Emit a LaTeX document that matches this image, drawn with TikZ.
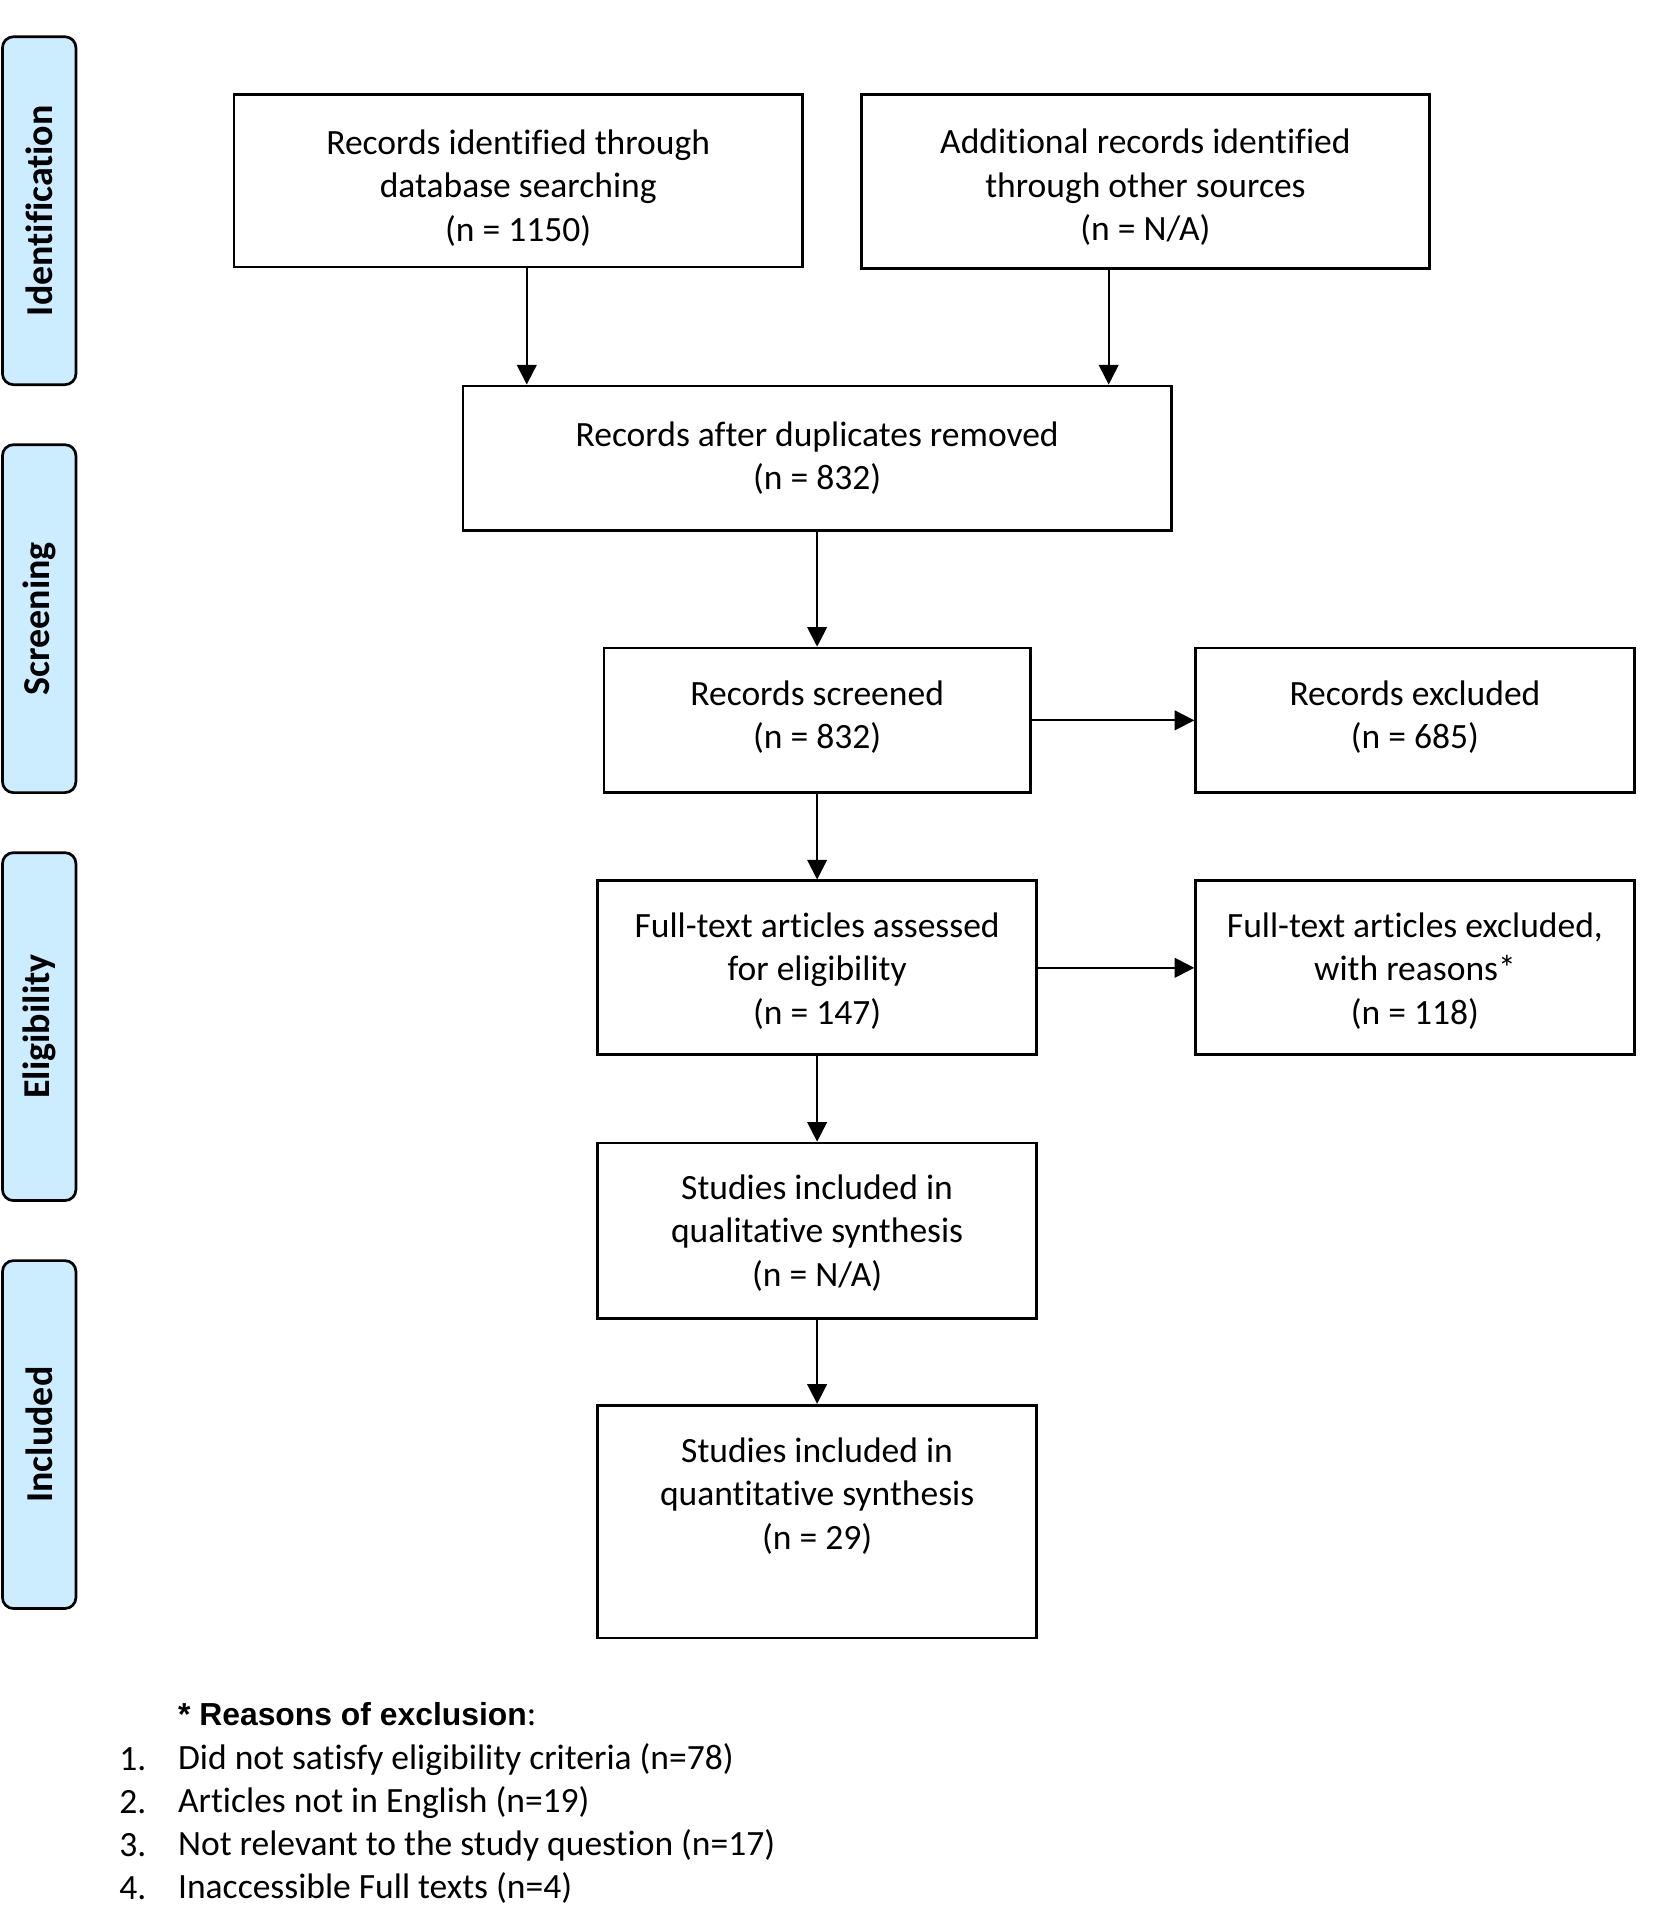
\documentclass[tikz,border=0pt]{standalone}
\usepackage{fontspec}
\setmainfont{Carlito}[Ligatures={NoCommon}]
\newfontfamily\arialfont{Liberation Sans}
\usetikzlibrary{arrows.meta,calc}
\definecolor{sideblue}{RGB}{204,236,255}
\newcommand{\lowr}[2]{\raisebox{#1}[\height][\depth]{\begin{tabular}{@{}c@{}}#2\end{tabular}}}
\begin{document}
\begin{tikzpicture}[x=0.5pt,y=-0.5pt,
  every node/.style={font=\fontsize{14.5pt}{17.75pt}\selectfont},
  flowbox/.style={draw=black, line width=1.1pt, rectangle, inner sep=0pt, align=center},
  sidebox/.style={draw=black, line width=1.1pt, fill=sideblue, rounded corners=4.5pt,
     rotate=90, minimum width=142pt, minimum height=30pt, inner sep=0pt,
     font=\fontsize{15.5pt}{18pt}\selectfont\bfseries},
  arr/.style={line width=0.8pt, -{Triangle[length=8pt,width=8pt]}},
  plain/.style={inner sep=0pt, anchor=west}
]
\useasboundingbox (0,0) rectangle (1350,1564);

% side labels
\node[sidebox] (sId) at (32,172) {Identification};
\node[sidebox] (sSc) at (32,505) {Screening};
\node[sidebox] (sEl) at (32,838) {Eligibility};
\node[sidebox] (sIn) at (32,1171) {Included};

% flow boxes
\node[flowbox, minimum width=232pt, minimum height=70.5pt] (A) at (423,147.5)
  {\lowr{-3.5pt}{Records identified through\\database searching\\(n = 1150)}};
\node[flowbox, minimum width=232pt, minimum height=71pt] (B) at (935,148)
  {\lowr{-3pt}{Additional records identified\\through other sources\\(n = N/A)}};
\node[flowbox, minimum width=289pt, minimum height=59pt] (C) at (667,374)
  {Records after duplicates removed\\(n = 832)};
\node[flowbox, minimum width=174pt, minimum height=59pt] (D) at (667,588)
  {\lowr{0.75pt}{Records screened\\(n = 832)}};
\node[flowbox, minimum width=179pt, minimum height=59pt] (E) at (1155,588)
  {\lowr{0.75pt}{Records excluded\\(n = 685)}};
\node[flowbox, minimum width=179pt, minimum height=71pt] (F) at (667,790)
  {\lowr{-1.75pt}{Full-text articles assessed\\for eligibility\\(n = 147)}};
\node[flowbox, minimum width=179pt, minimum height=71pt] (G) at (1155,790)
  {\lowr{-1.75pt}{Full-text articles excluded,\\with reasons*\\(n = 118)}};
\node[flowbox, minimum width=179pt, minimum height=71.5pt] (H) at (667,1004.5)
  {\lowr{-1.5pt}{Studies included in\\qualitative synthesis\\(n = N/A)}};
\node[flowbox, minimum width=179pt, minimum height=95pt] (I) at (667,1242)
  {Studies included in\\quantitative synthesis\\(n = 29)\\\strut};

% connectors
\coordinate (xa) at (430,0);
\coordinate (xb) at (905,0);
\draw[arr] (A.south -| xa) -- (C.north -| xa);
\draw[arr] (B.south -| xb) -- (C.north -| xb);
\draw[arr] (C.south) -- (D.north);
\draw[arr] (D.east) -- (E.west);
\draw[arr] (D.south) -- (F.north);
\draw[arr] (F.east) -- (G.west);
\draw[arr] (F.south) -- (H.north);
\draw[arr] (H.south) -- (I.north);

% footnote
\node[plain] (fn) at (145,1399) {{\arialfont\fontsize{13pt}{16pt}\selectfont\bfseries * Reasons of exclusion}:};
\node[plain] (n1) at (97,1436) {1.};
\node[plain] (t1) at (145,1436) {Did not satisfy eligibility criteria (n=78)};
\node[plain] (n2) at (97,1471) {2.};
\node[plain] (t2) at (145,1471) {Articles not in English (n=19)};
\node[plain] (n3) at (97,1506) {3.};
\node[plain] (t3) at (145,1506) {Not relevant to the study question (n=17)};
\node[plain] (n4) at (97,1541) {4.};
\node[plain] (t4) at (145,1541) {Inaccessible Full texts (n=4)};
\end{tikzpicture}
\end{document}
